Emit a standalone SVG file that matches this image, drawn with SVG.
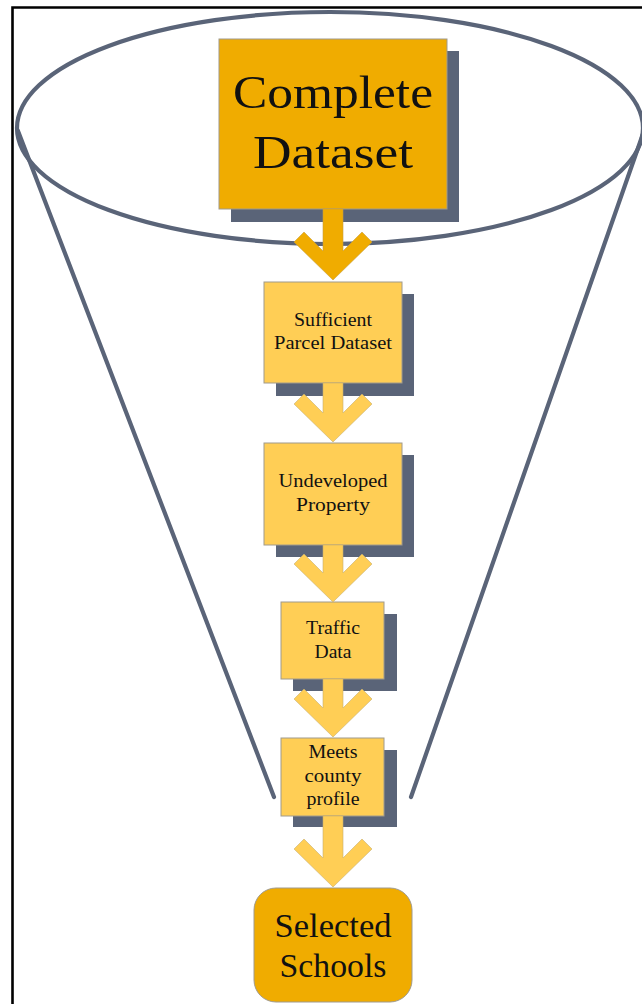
<svg xmlns="http://www.w3.org/2000/svg" width="642" height="1004" viewBox="0 0 642 1004">
<style>
.frame{fill:none;stroke:#000;stroke-width:2.6}
.funnel{fill:none;stroke:#5A6478;stroke-width:4.2;stroke-linecap:round}
.shadow{fill:#5A6478}
.dark{fill:#F0AC00;stroke:#A09A8C;stroke-width:1}
.light{fill:#FFCE55;stroke:#A09A8C;stroke-width:1}
.arrD{fill:#F0AC00;stroke:#C8A040;stroke-width:0.6}
.arrL{fill:#FFCE55;stroke:#C8B070;stroke-width:0.6}
text{font-family:"Liberation Serif","Times New Roman",serif;fill:#111;text-anchor:middle}
.big{font-size:47px}
.mid{font-size:34px}
.sm{font-size:18px}
</style>
<rect width="642" height="1004" fill="#fff"/>
<path class="frame" d="M12.5,1004 V7.5 H642"/>
<g id="funnel">
<ellipse class="funnel" cx="330" cy="128" rx="313" ry="116"/>
<line class="funnel" x1="18" y1="131" x2="274" y2="797"/>
<line class="funnel" x1="645" y1="128" x2="411" y2="797"/>
</g>
<g id="node-complete">
<rect class="shadow" x="231" y="51" width="228" height="171"/>
<rect class="dark" x="219" y="39" width="228" height="170"/>
<text class="big" x="333" y="108" textLength="200" lengthAdjust="spacingAndGlyphs">Complete</text>
<text class="big" x="333" y="168" textLength="160" lengthAdjust="spacingAndGlyphs">Dataset</text>
</g>
<g id="node-sufficient">
<rect class="shadow" x="276" y="294" width="138" height="102"/>
<rect class="light" x="264" y="282" width="138" height="101"/>
<text class="sm" x="333" y="326" textLength="78" lengthAdjust="spacingAndGlyphs">Sufficient</text>
<text class="sm" x="333" y="349" textLength="118" lengthAdjust="spacingAndGlyphs">Parcel Dataset</text>
</g>
<g id="node-undeveloped">
<rect class="shadow" x="276" y="455" width="138" height="102"/>
<rect class="light" x="264" y="443" width="138" height="102"/>
<text class="sm" x="333" y="487" textLength="109" lengthAdjust="spacingAndGlyphs">Undeveloped</text>
<text class="sm" x="333" y="511" textLength="74" lengthAdjust="spacingAndGlyphs">Property</text>
</g>
<g id="node-traffic">
<rect class="shadow" x="293" y="614" width="104" height="77"/>
<rect class="light" x="281" y="602" width="103" height="77"/>
<text class="sm" x="333" y="634" textLength="54" lengthAdjust="spacingAndGlyphs">Traffic</text>
<text class="sm" x="333" y="658" textLength="37" lengthAdjust="spacingAndGlyphs">Data</text>
</g>
<g id="node-meets">
<rect class="shadow" x="293" y="750" width="104" height="77"/>
<rect class="light" x="281" y="738" width="103" height="78"/>
<text class="sm" x="333" y="758" textLength="49" lengthAdjust="spacingAndGlyphs">Meets</text>
<text class="sm" x="333" y="782" textLength="57" lengthAdjust="spacingAndGlyphs">county</text>
<text class="sm" x="333" y="805" textLength="53" lengthAdjust="spacingAndGlyphs">profile</text>
</g>
<g id="node-selected">
<rect class="dark" x="254" y="888" width="158" height="114" rx="22" ry="22"/>
<text class="mid" x="333" y="937" textLength="117" lengthAdjust="spacingAndGlyphs">Selected</text>
<text class="mid" x="333" y="977" textLength="107" lengthAdjust="spacingAndGlyphs">Schools</text>
</g>
<g id="connectors">
<polygon class="arrD" points="323,209 343,209 343,251 362,232 372,242 333,280 294,242 304,232 323,251"/>
<polygon class="arrL" points="323,383 343,383 343,413 362,394 372,404 333,442 294,404 304,394 323,413"/>
<polygon class="arrL" points="323,545 343,545 343,573 362,554 372,564 333,602 294,564 304,554 323,573"/>
<polygon class="arrL" points="323,679 343,679 343,708 362,689 372,699 333,737 294,699 304,689 323,708"/>
<polygon class="arrL" points="323,816 343,816 343,858 362,839 372,849 333,887 294,849 304,839 323,858"/>
</g>
</svg>
